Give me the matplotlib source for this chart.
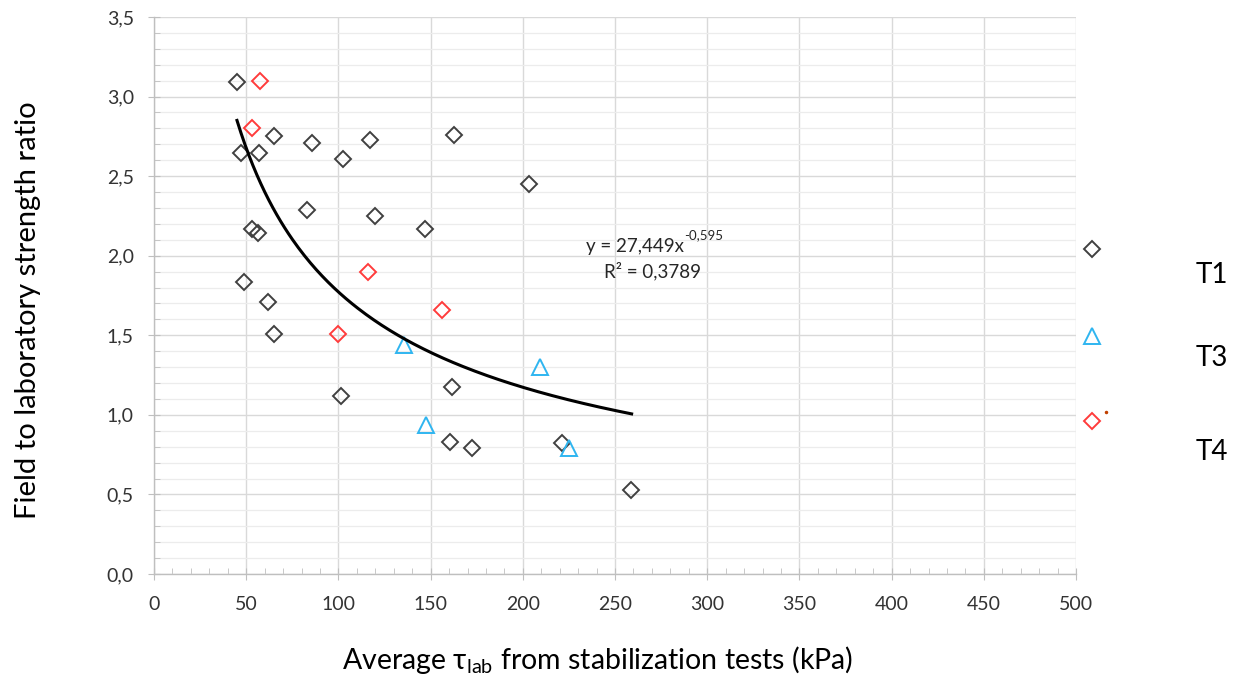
import numpy as np
import matplotlib
matplotlib.use("Agg")
import matplotlib.pyplot as plt
from matplotlib.ticker import MultipleLocator, FuncFormatter

plt.rcParams['font.family'] = ['Lato', 'DejaVu Sans']

# T1 (black diamonds)
t1_x = [45.0, 47.2, 56.9, 65.1, 85.7, 102.5, 117.1, 162.7, 203.4, 83.0, 119.8, 147.0,
        53.1, 56.4, 48.8, 61.8, 65.1, 101.2, 161.4, 160.5, 172.3, 221.4, 258.7]
t1_y = [3.09, 2.645, 2.645, 2.75, 2.71, 2.61, 2.73, 2.76, 2.45, 2.29, 2.25, 2.17,
        2.17, 2.14, 1.835, 1.71, 1.51, 1.12, 1.173, 0.828, 0.79, 0.82, 0.528]
# T3 (blue triangles)
t3_x = [135.6, 209.3, 147.3, 225.2]
t3_y = [1.44, 1.30, 0.936, 0.79]
# T4 (red diamonds)
t4_x = [57.7, 53.3, 115.9, 156.4, 99.6]
t4_y = [3.10, 2.80, 1.90, 1.66, 1.505]

# trendline y = a * x^b
fit_a, fit_b = 27.449, -0.595
fit_range = [45.0, 259.0]
eq_main = "y = 27,449x"
eq_sup = "-0,595"
r2_text = "R² = 0,3789"

legend_labels = ["T1", "T3", "T4"]
legend_marker_y = [2.04, 1.495, 0.96]

black = "#404040"
blue = "#2fb5f0"
red = "#ff3b3b"

fig = plt.figure(figsize=(12.35, 6.8), dpi=100)
ax = fig.add_axes([0.1247, 0.1559, 0.8713 - 0.1247, 0.975 - 0.1559])

ax.set_xlim(0, 500)
ax.set_ylim(0, 3.5)
ax.xaxis.set_major_locator(MultipleLocator(50))
ax.xaxis.set_minor_locator(MultipleLocator(10))
ax.yaxis.set_major_locator(MultipleLocator(0.5))
ax.yaxis.set_minor_locator(MultipleLocator(0.1))
ax.yaxis.set_major_formatter(FuncFormatter(lambda v, p: f"{v:.1f}".replace('.', ',')))

ax.grid(which='major', color='#d9d9d9', linewidth=1.0)
ax.grid(which='minor', axis='y', color='#ececec', linewidth=0.9)
ax.set_axisbelow(True)

for s in ['top', 'right']:
    ax.spines[s].set_visible(False)
for s in ['left', 'bottom']:
    ax.spines[s].set_color('#bfbfbf')
    ax.spines[s].set_linewidth(1.0)

ax.tick_params(which='major', direction='inout', length=9, color='#bfbfbf',
               labelsize=14, labelcolor='#333333')
ax.tick_params(axis='y', which='major', pad=10)
ax.tick_params(axis='x', which='major', pad=11)
ax.tick_params(which='minor', direction='in', length=4, color='#bfbfbf')

mk = dict(linestyle='none', markerfacecolor='none', markeredgewidth=1.4)
ax.plot(t1_x, t1_y, marker='D', markersize=8, markeredgecolor=black, **mk)
ax.plot(t4_x, t4_y, marker='D', markersize=8, markeredgecolor=red, **mk)
ax.plot(t3_x, t3_y, marker='^', markersize=11, markeredgecolor=blue, **mk)

xf = np.linspace(fit_range[0], fit_range[1], 200)
ax.plot(xf, fit_a * xf ** fit_b, color='black', linewidth=2.2)

eq = fig.text(635 / 1235, 1 - 246 / 680, eq_main, ha='center', va='center', fontsize=13.5, color='#262626')
ax.annotate(eq_sup, xy=(1.0, 0.78), xycoords=eq, ha='left', va='bottom', fontsize=9.5, color='#262626')
fig.text(653 / 1235, 1 - 271 / 680, r2_text, ha='center', va='center', fontsize=13.5, color='#262626')

# legend-like markers outside the plot
leg_x = 508.7
ax.plot([leg_x], [legend_marker_y[0]], marker='D', markersize=8, markeredgecolor=black, clip_on=False, **mk)
ax.plot([leg_x], [legend_marker_y[1]], marker='^', markersize=11, markeredgecolor=blue, clip_on=False, **mk)
ax.plot([leg_x], [legend_marker_y[2]], marker='D', markersize=8, markeredgecolor=red, clip_on=False, **mk)
ax.plot([516.3], [1.02], marker='o', markersize=1.5, color='#c04000', clip_on=False, linestyle='none')

for lab, py in zip(legend_labels, [275, 358, 452]):
    fig.text(1212 / 1235, 1 - py / 680, lab, ha='center', va='center', fontsize=20, color='black')

fig.text(28 / 1235, 1 - 310 / 680, "Field to laboratory strength ratio", rotation=90,
         ha='center', va='center', fontsize=21, color='black')
fig.text(598 / 1235, 1 - 660 / 680, "Average τ$_{\\mathregular{lab}}$ from stabilization tests (kPa)",
         ha='center', va='center', fontsize=20.5, color='black')

fig.savefig("out.png", dpi=100)
